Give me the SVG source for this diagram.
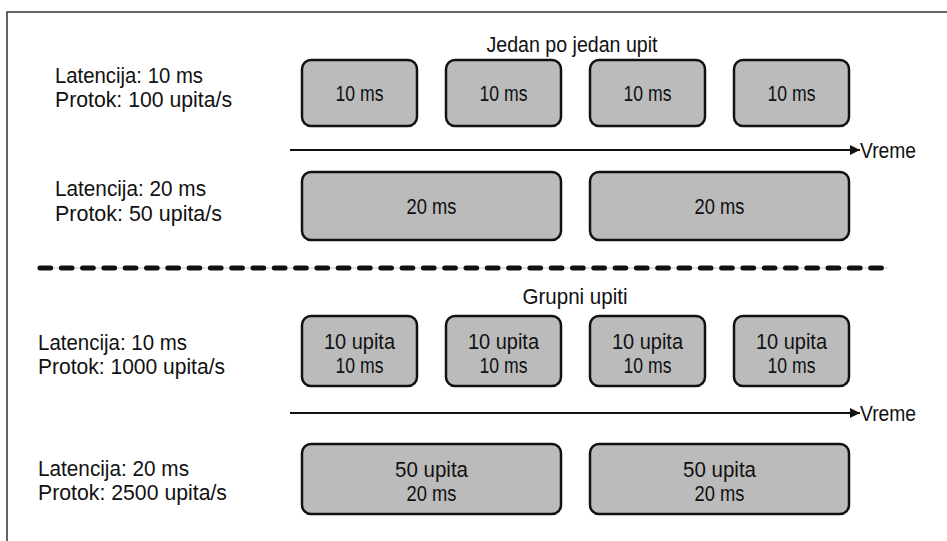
<svg xmlns="http://www.w3.org/2000/svg" width="947" height="541" viewBox="0 0 947 541">
<defs>
<style>
text{font-family:"Liberation Sans",Arial,sans-serif;font-size:22px;fill:#111}
.c{text-anchor:middle}
.box{fill:#bbbbbb;stroke:#111;stroke-width:2.5}
.ax{stroke:#111;stroke-width:2;fill:none}
</style>
<marker id="ah" viewBox="0 0 10 10" refX="10" refY="5" markerWidth="10" markerHeight="10" markerUnits="userSpaceOnUse" orient="auto">
<path d="M0,0 L10,5 L0,10 Z" fill="#111"/>
</marker>
</defs>
<rect width="947" height="541" fill="#fff"/>
<path d="M7,541 V12 H947" fill="none" stroke="#333" stroke-width="1.5"/>

<g id="title-top"><text class="c" x="572" y="52" textLength="171" lengthAdjust="spacingAndGlyphs">Jedan po jedan upit</text></g>
<g id="label-r1"><text x="55" y="83" textLength="148" lengthAdjust="spacingAndGlyphs">Latencija: 10 ms</text><text x="55" y="107" textLength="177" lengthAdjust="spacingAndGlyphs">Protok: 100 upita/s</text></g>
<g id="r1b1"><rect class="box" x="302" y="60" width="115" height="66" rx="9"/><text class="c" x="359.5" y="101" textLength="48" lengthAdjust="spacingAndGlyphs">10 ms</text></g>
<g id="r1b2"><rect class="box" x="446" y="60" width="115" height="66" rx="9"/><text class="c" x="503.5" y="101" textLength="48" lengthAdjust="spacingAndGlyphs">10 ms</text></g>
<g id="r1b3"><rect class="box" x="590" y="60" width="115" height="66" rx="9"/><text class="c" x="647.5" y="101" textLength="48" lengthAdjust="spacingAndGlyphs">10 ms</text></g>
<g id="r1b4"><rect class="box" x="734" y="60" width="115" height="66" rx="9"/><text class="c" x="791.5" y="101" textLength="48" lengthAdjust="spacingAndGlyphs">10 ms</text></g>

<g id="label-r2"><text x="55" y="196" textLength="151" lengthAdjust="spacingAndGlyphs">Latencija: 20 ms</text><text x="55" y="221" textLength="167" lengthAdjust="spacingAndGlyphs">Protok: 50 upita/s</text></g>
<g id="r2b1"><rect class="box" x="302" y="172" width="259" height="68" rx="9"/><text class="c" x="431.5" y="214" textLength="50" lengthAdjust="spacingAndGlyphs">20 ms</text></g>
<g id="r2b2"><rect class="box" x="590" y="172" width="259" height="68" rx="9"/><text class="c" x="719.5" y="214" textLength="50" lengthAdjust="spacingAndGlyphs">20 ms</text></g>

<g id="divider">
<line x1="37" y1="268" x2="888" y2="268" stroke="#c8c8c8" stroke-width="1"/>
<line x1="40" y1="268" x2="886" y2="268" stroke="#111" stroke-width="5" stroke-linecap="round" stroke-dasharray="10.7 10.6"/>
</g>

<g id="title-bottom"><text class="c" x="575" y="304" textLength="105" lengthAdjust="spacingAndGlyphs">Grupni upiti</text></g>
<g id="label-r3"><text x="38" y="350" textLength="149" lengthAdjust="spacingAndGlyphs">Latencija: 10 ms</text><text x="38" y="374" textLength="187" lengthAdjust="spacingAndGlyphs">Protok: 1000 upita/s</text></g>
<g id="r3b1"><rect class="box" x="302" y="316" width="115" height="70" rx="9"/><text class="c" x="359.5" y="349" textLength="71" lengthAdjust="spacingAndGlyphs">10 upita</text><text class="c" x="359.5" y="373" textLength="48" lengthAdjust="spacingAndGlyphs">10 ms</text></g>
<g id="r3b2"><rect class="box" x="446" y="316" width="115" height="70" rx="9"/><text class="c" x="503.5" y="349" textLength="71" lengthAdjust="spacingAndGlyphs">10 upita</text><text class="c" x="503.5" y="373" textLength="48" lengthAdjust="spacingAndGlyphs">10 ms</text></g>
<g id="r3b3"><rect class="box" x="590" y="316" width="115" height="70" rx="9"/><text class="c" x="647.5" y="349" textLength="71" lengthAdjust="spacingAndGlyphs">10 upita</text><text class="c" x="647.5" y="373" textLength="48" lengthAdjust="spacingAndGlyphs">10 ms</text></g>
<g id="r3b4"><rect class="box" x="734" y="316" width="115" height="70" rx="9"/><text class="c" x="791.5" y="349" textLength="71" lengthAdjust="spacingAndGlyphs">10 upita</text><text class="c" x="791.5" y="373" textLength="48" lengthAdjust="spacingAndGlyphs">10 ms</text></g>

<g id="label-r4"><text x="38" y="476" textLength="151" lengthAdjust="spacingAndGlyphs">Latencija: 20 ms</text><text x="38" y="500" textLength="189" lengthAdjust="spacingAndGlyphs">Protok: 2500 upita/s</text></g>
<g id="r4b1"><rect class="box" x="302" y="444" width="259" height="70" rx="9"/><text class="c" x="431.5" y="477" textLength="73" lengthAdjust="spacingAndGlyphs">50 upita</text><text class="c" x="431.5" y="501" textLength="50" lengthAdjust="spacingAndGlyphs">20 ms</text></g>
<g id="r4b2"><rect class="box" x="590" y="444" width="259" height="70" rx="9"/><text class="c" x="719.5" y="477" textLength="73" lengthAdjust="spacingAndGlyphs">50 upita</text><text class="c" x="719.5" y="501" textLength="50" lengthAdjust="spacingAndGlyphs">20 ms</text></g>

<g id="connectors">
<line class="ax" x1="290" y1="150" x2="860" y2="150" marker-end="url(#ah)"/>
<text x="860" y="158" textLength="56" lengthAdjust="spacingAndGlyphs">Vreme</text>
<line class="ax" x1="290" y1="413" x2="860" y2="413" marker-end="url(#ah)"/>
<text x="860" y="421" textLength="56" lengthAdjust="spacingAndGlyphs">Vreme</text>
</g>
</svg>
